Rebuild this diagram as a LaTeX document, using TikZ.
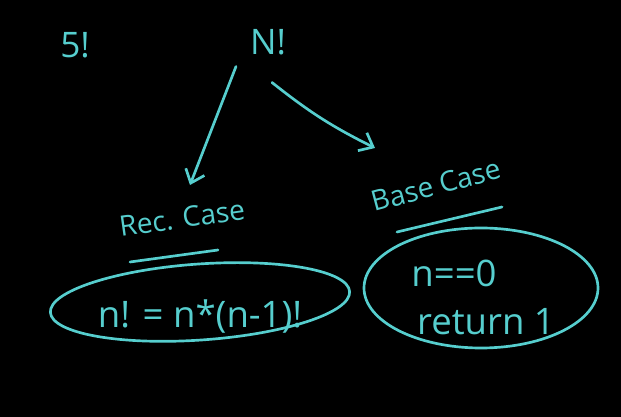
\documentclass[tikz,border=0pt]{standalone}
\usepackage{fontspec}
\setmainfont{Open Sans}
\usetikzlibrary{arrows.meta,shapes.geometric,calc}
\definecolor{chalk}{RGB}{86,206,206}
\tikzset{
    hand/.style={text=chalk, font=\fontsize{25}{30}\selectfont, inner sep=1pt},
    bubble/.style={draw=chalk, line width=1.9pt, ellipse, inner sep=0pt},
    arr/.style={draw=chalk, line width=1.9pt, line cap=round,
        -{Straight Barb[length=3mm,width=5mm,line width=1.9pt]}},
    uline/.style={draw=chalk, line width=1.9pt, line cap=round}
}
\begin{document}
\begin{tikzpicture}
            \fill[black] (0, 0) rectangle (15.525, 10.425);
            \useasboundingbox (0, 0) rectangle (15.525, 10.425);
            % top
            \node[hand] (fivefact) at (1.875, 9.3) {5!};
            \node[hand] (nfact) at (6.7, 9.375) {N!};
            % labels
            \node[hand, rotate=8, font=\fontsize{20}{24}\selectfont]
                (rec) at (4.55, 4.975) {Rec. Case};
            \node[hand, rotate=15, font=\fontsize{20}{24}\selectfont]
                (base) at (10.9, 5.8) {Base Case};
            \coordinate (recend) at (4.75, 5.8);
            \coordinate (baseend) at (9.375, 6.725);
            \draw[arr] ($(nfact.south)+(-0.8,-0.25)$) -- (recend);
            \draw[arr] ($(nfact.south)+(0.1,-0.65)$) to[bend right=6] (baseend);
            \draw[uline] (3.25, 3.875) -- (5.45, 4.175);
            \draw[uline] (9.925, 4.625) -- (12.55, 5.25);
            % cases
            \node[bubble, minimum width=7.5cm, minimum height=1.9cm, rotate=4]
                (recbox) at (5.0, 2.875) {};
            \node[bubble, minimum width=5.85cm, minimum height=3.0cm]
                (basebox) at (12.025, 3.225) {};
            \node[hand, font=\fontsize{26}{30}\selectfont]
                (recrule) at (5.0, 2.5) {n! = n*(n-1)!};
            \node[hand, font=\fontsize{26}{30}\selectfont]
                (basetest) at (11.35, 3.6) {n==0};
            \node[hand, font=\fontsize{26}{30}\selectfont]
                (baseret) at (12.15, 2.375) {return 1};
        \end{tikzpicture}
\end{document}
